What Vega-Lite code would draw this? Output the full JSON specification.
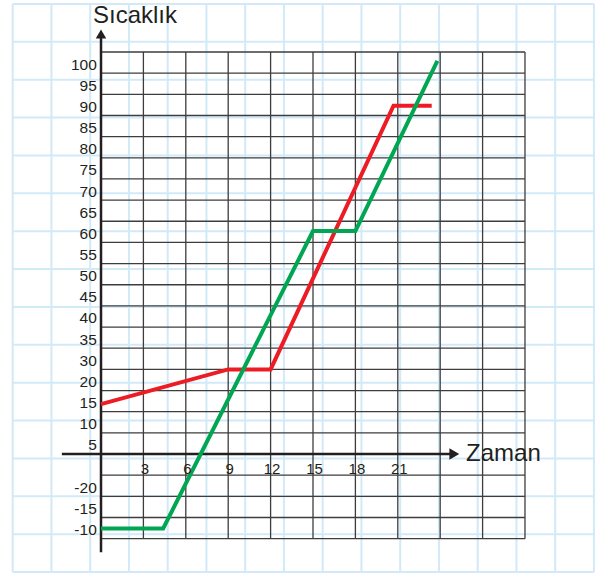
{
  "$schema": "https://vega.github.io/schema/vega-lite/v6.json",
  "width": 603,
  "height": 573,
  "autosize": "none",
  "padding": 0,
  "background": "white",
  "config": {"view": {"stroke": null}, "axis": {"disable": true}, "font": "Liberation Sans"},
  "datasets": {
    "paper": [{"k":0},{"k":1},{"k":2},{"k":3},{"k":4},{"k":5},{"k":6},{"k":7},{"k":8},{"k":9},{"k":10},{"k":11},{"k":12},{"k":13},{"k":14},{"k":15}],
    "vgrid": [{"t":0},{"t":3},{"t":6},{"t":9},{"t":12},{"t":15},{"t":18},{"t":21},{"t":24},{"t":27},{"t":30}],
    "hgrid": [{"s":-20},{"s":-15},{"s":-10},{"s":-5},{"s":5},{"s":10},{"s":15},{"s":20},{"s":25},{"s":30},{"s":35},{"s":40},{"s":45},{"s":50},{"s":55},{"s":60},{"s":65},{"s":70},{"s":75},{"s":80},{"s":85},{"s":90},{"s":95}],
    "lines": [
      {"series":"Kırmızı","zaman":0,"sicaklik":11.8},
      {"series":"Kırmızı","zaman":9,"sicaklik":20},
      {"series":"Kırmızı","zaman":12,"sicaklik":20},
      {"series":"Kırmızı","zaman":20.7,"sicaklik":82.3},
      {"series":"Kırmızı","zaman":23.4,"sicaklik":82.3},
      {"series":"Yeşil","zaman":0,"sicaklik":-17.6},
      {"series":"Yeşil","zaman":4.4,"sicaklik":-17.6},
      {"series":"Yeşil","zaman":15,"sicaklik":52.7},
      {"series":"Yeşil","zaman":18,"sicaklik":52.7},
      {"series":"Yeşil","zaman":23.8,"sicaklik":92.9}
    ],
    "ylabels": [
      {"label":"-10","pos":-17.5},{"label":"-15","pos":-12.5},{"label":"-20","pos":-7.5},
      {"label":"5","pos":2.5},{"label":"10","pos":7.5},{"label":"15","pos":12.5},{"label":"20","pos":17.5},
      {"label":"30","pos":22.5},{"label":"35","pos":27.5},{"label":"40","pos":32.5},{"label":"45","pos":37.5},
      {"label":"50","pos":42.5},{"label":"55","pos":47.5},{"label":"60","pos":52.5},{"label":"65","pos":57.5},
      {"label":"70","pos":62.5},{"label":"75","pos":67.5},{"label":"80","pos":72.5},{"label":"85","pos":77.5},
      {"label":"90","pos":82.5},{"label":"95","pos":87.5},{"label":"100","pos":92.5}
    ],
    "xlabels": [{"label":"3","t":3},{"label":"6","t":6},{"label":"9","t":9},{"label":"12","t":12},{"label":"15","t":15},{"label":"18","t":18},{"label":"21","t":21}]
  },
  "resolve": {"scale": {"x": "independent", "y": "independent"}},
  "layer": [
    {
      "data": {"name": "paper"},
      "layer": [
        {
          "mark": {"type": "rule", "color": "#d2eaf8", "strokeWidth": 2},
          "encoding": {
            "x": {"field": "k", "type": "quantitative", "axis": null, "scale": {"domain": [-0.3277, 15.234], "nice": false, "zero": false}},
            "y": {"datum": 0, "type": "quantitative", "axis": null, "scale": {"domain": [-0.0264, 15.104], "nice": false, "zero": false}},
            "y2": {"datum": 15}
          }
        },
        {
          "mark": {"type": "rule", "color": "#d2eaf8", "strokeWidth": 2},
          "encoding": {
            "y": {"field": "k", "type": "quantitative", "axis": null, "scale": {"domain": [-0.0264, 15.104], "nice": false, "zero": false}},
            "x": {"datum": 0, "type": "quantitative", "axis": null, "scale": {"domain": [-0.3277, 15.234], "nice": false, "zero": false}},
            "x2": {"datum": 15}
          }
        }
      ]
    },
    {
      "layer": [
        {
          "data": {"name": "vgrid"},
          "mark": {"type": "rule", "color": "#3d3d3d", "strokeWidth": 1.3},
          "encoding": {
            "x": {"field": "t", "type": "quantitative", "axis": null, "scale": {"domain": [-7.147, 35.52], "nice": false, "zero": false}},
            "y": {"datum": -20, "type": "quantitative", "axis": null, "scale": {"domain": [-28.12, 107.29], "nice": false, "zero": false}},
            "y2": {"datum": 95}
          }
        },
        {
          "data": {"name": "hgrid"},
          "mark": {"type": "rule", "color": "#3d3d3d", "strokeWidth": 1.3},
          "encoding": {
            "y": {"field": "s", "type": "quantitative", "axis": null, "scale": {"domain": [-28.12, 107.29], "nice": false, "zero": false}},
            "x": {"datum": 0, "type": "quantitative", "axis": null, "scale": {"domain": [-7.147, 35.52], "nice": false, "zero": false}},
            "x2": {"datum": 30}
          }
        },
        {
          "data": {"values": [{"a": 1}]},
          "mark": {"type": "rule", "color": "#231f20", "strokeWidth": 2.5},
          "encoding": {
            "x": {"datum": 0, "type": "quantitative"},
            "y": {"datum": -23.2, "type": "quantitative"},
            "y2": {"datum": 99}
          }
        },
        {
          "data": {"values": [{"a": 1}]},
          "mark": {"type": "rule", "color": "#231f20", "strokeWidth": 2.5},
          "encoding": {
            "y": {"datum": 0, "type": "quantitative"},
            "x": {"datum": -2.77, "type": "quantitative"},
            "x2": {"datum": 24.8}
          }
        },
        {
          "data": {"values": [{"a": 1}]},
          "mark": {"type": "point", "shape": "triangle-up", "filled": true, "color": "#231f20", "size": 110, "opacity": 1},
          "encoding": {
            "x": {"datum": 0, "type": "quantitative"},
            "y": {"datum": 99.25, "type": "quantitative"}
          }
        },
        {
          "data": {"values": [{"a": 1}]},
          "mark": {"type": "point", "shape": "triangle-right", "filled": true, "color": "#231f20", "size": 130, "opacity": 1},
          "encoding": {
            "x": {"datum": 25.0, "type": "quantitative"},
            "y": {"datum": 0, "type": "quantitative"}
          }
        },
        {
          "data": {"name": "lines"},
          "mark": {"type": "line", "strokeWidth": 4, "strokeCap": "butt", "strokeJoin": "miter"},
          "encoding": {
            "x": {"field": "zaman", "type": "quantitative"},
            "y": {"field": "sicaklik", "type": "quantitative"},
            "color": {"field": "series", "type": "nominal", "legend": null, "scale": {"domain": ["Kırmızı", "Yeşil"], "range": ["#ed1c24", "#00a651"]}},
            "order": {"field": "zaman", "type": "quantitative"}
          }
        },
        {
          "data": {"name": "ylabels"},
          "mark": {"type": "text", "align": "right", "baseline": "middle", "fontSize": 15.5, "color": "#231f20", "dy": 2},
          "encoding": {
            "x": {"datum": -0.3, "type": "quantitative"},
            "y": {"field": "pos", "type": "quantitative"},
            "text": {"field": "label"}
          }
        },
        {
          "data": {"name": "xlabels"},
          "mark": {"type": "text", "align": "center", "baseline": "middle", "fontSize": 15, "color": "#231f20", "dx": 1.5},
          "encoding": {
            "x": {"field": "t", "type": "quantitative"},
            "y": {"datum": -3.5, "type": "quantitative"},
            "text": {"field": "label"}
          }
        },
        {
          "data": {"values": [{"label": "Sıcaklık"}]},
          "mark": {"type": "text", "align": "left", "baseline": "alphabetic", "fontSize": 24, "color": "#231f20"},
          "encoding": {
            "x": {"datum": -0.57, "type": "quantitative"},
            "y": {"datum": 101.8, "type": "quantitative"},
            "text": {"field": "label"}
          }
        },
        {
          "data": {"values": [{"label": "Zaman"}]},
          "mark": {"type": "text", "align": "left", "baseline": "alphabetic", "fontSize": 24, "color": "#231f20"},
          "encoding": {
            "x": {"datum": 25.83, "type": "quantitative"},
            "y": {"datum": -1.65, "type": "quantitative"},
            "text": {"field": "label"}
          }
        }
      ]
    }
  ]
}
